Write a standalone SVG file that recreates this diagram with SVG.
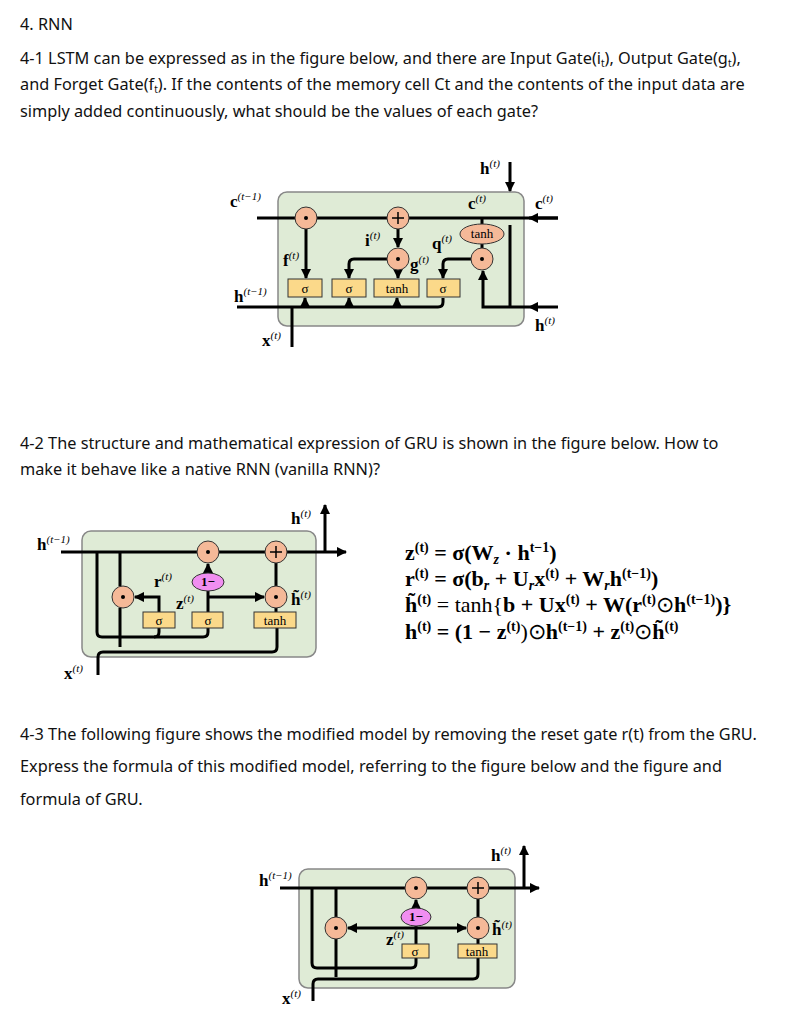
<svg xmlns="http://www.w3.org/2000/svg" width="786" height="1024" viewBox="0 0 786 1024">
<style>
.q{font-family:"Noto Sans","Open Sans",sans-serif;font-size:16.3px;fill:#111}
.box{fill:#dfebd6;stroke:#888;stroke-width:1.5}
.ln{fill:none;stroke:#000;stroke-width:3}
.op{fill:#f5b998;stroke:#333;stroke-width:1}
.gt{fill:#fbd98a;stroke:#333;stroke-width:1}
.one{fill:#f08ef0;stroke:#333;stroke-width:1}
.l{font-family:"Liberation Serif",serif;font-weight:bold;font-size:17px}
.s{font-size:11px;font-weight:normal;font-style:italic}
.g{font-family:"Liberation Serif",serif;font-size:13px;text-anchor:middle}
.eq{font-family:"Liberation Serif",serif;font-size:22px;font-weight:bold}
.es{font-size:14px}
</style>
<defs>
<marker id="a" viewBox="0 0 10 10" refX="9" refY="5" markerWidth="3.5" markerHeight="3.5" orient="auto"><path d="M0,0L10,5L0,10z"/></marker>
</defs>
<g id="text">
<text class="q" x="20" y="30">4. RNN</text>
<text class="q" x="20" y="64">4-1 LSTM can be expressed as in the figure below, and there are Input Gate(i<tspan font-size="10" dy="3">t</tspan><tspan dy="-3">), Output Gate(g</tspan><tspan font-size="10" dy="3">t</tspan><tspan dy="-3">),</tspan></text>
<text class="q" x="20" y="90">and Forget Gate(f<tspan font-size="10" dy="3">t</tspan><tspan dy="-3">). If the contents of the memory cell Ct and the contents of the input data are</tspan></text>
<text class="q" x="20" y="117">simply added continuously, what should be the values of each gate?</text>
<text class="q" x="20" y="449">4-2 The structure and mathematical expression of GRU is shown in the figure below. How to</text>
<text class="q" x="20" y="475">make it behave like a native RNN (vanilla RNN)?</text>
<text class="q" x="20" y="740">4-3 The following figure shows the modified model by removing the reset gate r(t) from the GRU.</text>
<text class="q" x="20" y="772">Express the formula of this modified model, referring to the figure below and the figure and</text>
<text class="q" x="20" y="805">formula of GRU.</text>
</g>
<g id="lstm">
<rect class="box" x="278" y="192" width="246" height="134" rx="9"/>
<g id="lstm-connectors">
<path class="ln" d="M257,218H558"/>
<path class="ln" d="M558,218H529" marker-end="url(#a)"/>
<path class="ln" d="M510,162V191" marker-end="url(#a)"/>
<path class="ln" d="M510,225V307"/>
<path class="ln" d="M558,307H529" marker-end="url(#a)"/>
<path class="ln" d="M529,307H483V271" marker-end="url(#a)"/>
<path class="ln" d="M237,307H438Q443,307 443,302V298"/>
<path class="ln" d="M292,307V347"/>
<path class="ln" d="M305,307V298" marker-end="url(#a)"/>
<path class="ln" d="M349,307V298" marker-end="url(#a)"/>
<path class="ln" d="M397,307V298" marker-end="url(#a)"/>
<path class="ln" d="M306,229V278" marker-end="url(#a)"/>
<path class="ln" d="M398,229V247" marker-end="url(#a)"/>
<path class="ln" d="M398,270V278" marker-end="url(#a)"/>
<path class="ln" d="M387,259H354Q349,259 349,264V278" marker-end="url(#a)"/>
<path class="ln" d="M471,259H448Q443,259 443,264V278" marker-end="url(#a)"/>
<path class="ln" d="M482,218V224M482,244V248"/>
</g>
<g id="lstm-nodes">
<circle class="op" cx="306" cy="218" r="11"/><circle cx="306" cy="218" r="2"/>
<circle class="op" cx="398" cy="218" r="11"/><path d="M392,218h12M398,212v12" stroke="#000" stroke-width="1.5"/>
<circle class="op" cx="398" cy="259" r="11"/><circle cx="398" cy="259" r="2"/>
<circle class="op" cx="482" cy="259" r="11"/><circle cx="482" cy="259" r="2"/>
<ellipse class="op" cx="482" cy="234" rx="22" ry="10"/><text class="g" x="482" y="238" font-size="11">tanh</text>
<rect class="gt" x="288" y="279" width="34" height="18"/><text class="g" x="305" y="293">σ</text>
<rect class="gt" x="332" y="279" width="34" height="18"/><text class="g" x="349" y="293">σ</text>
<rect class="gt" x="374" y="279" width="45" height="18"/><text class="g" x="397" y="293">tanh</text>
<rect class="gt" x="427" y="279" width="33" height="18"/><text class="g" x="443" y="293">σ</text>
</g>
<text class="l" x="230" y="207">c<tspan class="s" dy="-7">(t−1)</tspan></text>
<text class="l" x="234" y="302">h<tspan class="s" dy="-7">(t−1)</tspan></text>
<text class="l" x="262" y="346">x<tspan class="s" dy="-7">(t)</tspan></text>
<text class="l" x="283" y="266">f<tspan class="s" dy="-7">(t)</tspan></text>
<text class="l" x="365" y="246">i<tspan class="s" dy="-7">(t)</tspan></text>
<text class="l" x="410" y="270">g<tspan class="s" dy="-7">(t)</tspan></text>
<text class="l" x="432" y="249">q<tspan class="s" dy="-7">(t)</tspan></text>
<text class="l" x="468" y="209">c<tspan class="s" dy="-7">(t)</tspan></text>
<text class="l" x="480" y="174">h<tspan class="s" dy="-7">(t)</tspan></text>
<text class="l" x="535" y="209">c<tspan class="s" dy="-7">(t)</tspan></text>
<text class="l" x="535" y="331">h<tspan class="s" dy="-7">(t)</tspan></text>
</g>
<g id="gru">
<rect class="box" x="82" y="531" width="234" height="126" rx="9"/>
<g id="gru-connectors">
<path class="ln" d="M61,552H346" marker-end="url(#a)"/>
<path class="ln" d="M325,552V505" marker-end="url(#a)"/>
<path class="ln" d="M97,552V632Q97,637 102,637H154Q159,637 159,632V628"/>
<path class="ln" d="M154,637H203Q208,637 208,632V628"/>
<path class="ln" d="M120,552V586M120,608V647"/>
<path class="ln" d="M98,675V657Q98,652 103,652H272Q277,652 277,647V628"/>
<path class="ln" d="M159,612V597H135" marker-end="url(#a)"/>
<path class="ln" d="M208,612V591"/>
<path class="ln" d="M208,573V564" marker-end="url(#a)"/>
<path class="ln" d="M208,597H264" marker-end="url(#a)"/>
<path class="ln" d="M276,563V586M276,608V612"/>
</g>
<g id="gru-nodes">
<circle class="op" cx="208" cy="552" r="11"/><circle cx="208" cy="552" r="2"/>
<circle class="op" cx="276" cy="552" r="11"/><path d="M270,552h12M276,546v12" stroke="#000" stroke-width="1.5"/>
<circle class="op" cx="123" cy="597" r="11"/><circle cx="123" cy="597" r="2"/>
<circle class="op" cx="276" cy="597" r="11"/><circle cx="276" cy="597" r="2"/>
<ellipse class="one" cx="208" cy="582" rx="16" ry="9"/><text class="g" x="208" y="586" font-size="10" font-weight="bold">1−</text>
<rect class="gt" x="143" y="612" width="32" height="16"/><text class="g" x="159" y="625">σ</text>
<rect class="gt" x="192" y="612" width="31" height="16"/><text class="g" x="208" y="625">σ</text>
<rect class="gt" x="254" y="612" width="42" height="16"/><text class="g" x="275" y="625">tanh</text>
</g>
<text class="l" x="37" y="550">h<tspan class="s" dy="-7">(t−1)</tspan></text>
<text class="l" x="64" y="679">x<tspan class="s" dy="-7">(t)</tspan></text>
<text class="l" x="154" y="587">r<tspan class="s" dy="-7">(t)</tspan></text>
<text class="l" x="176" y="609">z<tspan class="s" dy="-7">(t)</tspan></text>
<text class="l" x="291" y="605">h̃<tspan class="s" dy="-7">(t)</tspan></text>
<text class="l" x="291" y="524">h<tspan class="s" dy="-7">(t)</tspan></text>
</g>
<g id="equations" class="eq">
<text x="405" y="560">z<tspan class="es" dy="-8">(t)</tspan><tspan dy="8"> = σ(W</tspan><tspan class="es" dy="4" font-style="italic">z</tspan><tspan dy="-4"> · h</tspan><tspan class="es" dy="-8">t−1</tspan><tspan dy="8">)</tspan></text>
<text x="405" y="586">r<tspan class="es" dy="-8">(t)</tspan><tspan dy="8"> = σ(b</tspan><tspan class="es" dy="4" font-style="italic">r</tspan><tspan dy="-4"> + U</tspan><tspan class="es" dy="4" font-style="italic">r</tspan><tspan dy="-4">x</tspan><tspan class="es" dy="-8">(t)</tspan><tspan dy="8"> + W</tspan><tspan class="es" dy="4" font-style="italic">r</tspan><tspan dy="-4">h</tspan><tspan class="es" dy="-8">(t−1)</tspan><tspan dy="8">)</tspan></text>
<text x="405" y="612">h̃<tspan class="es" dy="-8">(t)</tspan><tspan dy="8" font-weight="normal"> = tanh{</tspan><tspan>b + Ux</tspan><tspan class="es" dy="-8">(t)</tspan><tspan dy="8"> + W(r</tspan><tspan class="es" dy="-8">(t)</tspan><tspan dy="8" font-weight="normal">⊙</tspan><tspan>h</tspan><tspan class="es" dy="-8">(t−1)</tspan><tspan dy="8">)}</tspan></text>
<text x="405" y="639">h<tspan class="es" dy="-8">(t)</tspan><tspan dy="8"> = (1 − z</tspan><tspan class="es" dy="-8">(t)</tspan><tspan dy="8" font-weight="normal">)⊙</tspan><tspan>h</tspan><tspan class="es" dy="-8">(t−1)</tspan><tspan dy="8"> + z</tspan><tspan class="es" dy="-8">(t)</tspan><tspan dy="8" font-weight="normal">⊙</tspan><tspan>h̃</tspan><tspan class="es" dy="-8">(t)</tspan></text>
</g>
<g id="mod">
<rect class="box" x="299" y="869" width="216" height="119" rx="9"/>
<g id="mod-connectors">
<path class="ln" d="M280,888H539" marker-end="url(#a)"/>
<path class="ln" d="M524,888V846" marker-end="url(#a)"/>
<path class="ln" d="M312,888V963Q312,968 317,968H411Q416,968 416,963V958"/>
<path class="ln" d="M336,888V917M336,939V977"/>
<path class="ln" d="M313,1001V984Q313,979 318,979H473Q478,979 478,974V958"/>
<path class="ln" d="M416,944V926"/>
<path class="ln" d="M416,908V900" marker-end="url(#a)"/>
<path class="ln" d="M416,928H348" marker-end="url(#a)"/>
<path class="ln" d="M416,928H466" marker-end="url(#a)"/>
<path class="ln" d="M478,899V917M478,939V944"/>
</g>
<g id="mod-nodes">
<circle class="op" cx="416" cy="888" r="11"/><circle cx="416" cy="888" r="2"/>
<circle class="op" cx="478" cy="888" r="11"/><path d="M472,888h12M478,882v12" stroke="#000" stroke-width="1.5"/>
<circle class="op" cx="336" cy="928" r="11"/><circle cx="336" cy="928" r="2"/>
<circle class="op" cx="478" cy="928" r="11"/><circle cx="478" cy="928" r="2"/>
<ellipse class="one" cx="416" cy="917" rx="15" ry="9"/><text class="g" x="416" y="921" font-size="10" font-weight="bold">1−</text>
<rect class="gt" x="402" y="944" width="27" height="14"/><text class="g" x="415" y="956">σ</text>
<rect class="gt" x="458" y="944" width="39" height="14"/><text class="g" x="477" y="956">tanh</text>
</g>
<text class="l" x="259" y="886">h<tspan class="s" dy="-7">(t−1)</tspan></text>
<text class="l" x="282" y="1004">x<tspan class="s" dy="-7">(t)</tspan></text>
<text class="l" x="386" y="945">z<tspan class="s" dy="-7">(t)</tspan></text>
<text class="l" x="492" y="935">h̃<tspan class="s" dy="-7">(t)</tspan></text>
<text class="l" x="491" y="861">h<tspan class="s" dy="-7">(t)</tspan></text>
</g>
</svg>
